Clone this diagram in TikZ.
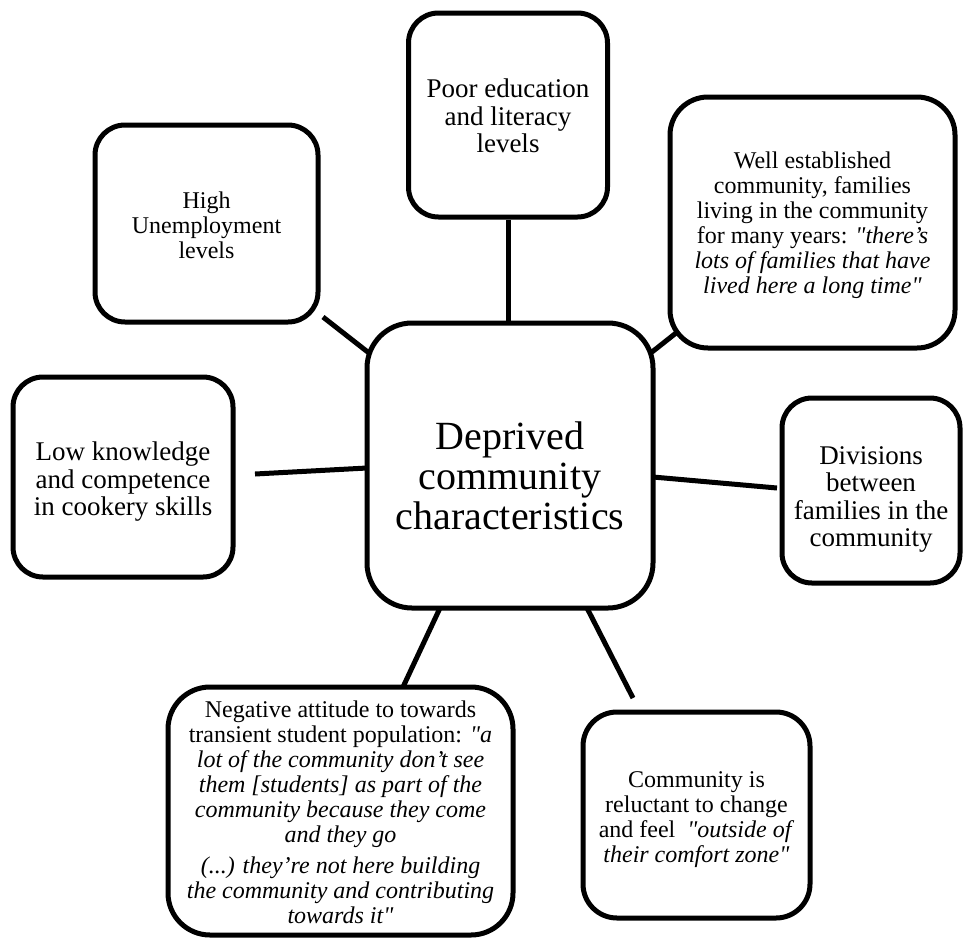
\documentclass[tikz,border=0pt]{standalone}
\usepackage{fontspec}
\setmainfont{Liberation Serif}[Ligatures=TeXOff]
\begin{document}
\begin{tikzpicture}[x=1pt,y=-1pt,
  box/.style={draw, line width=5pt, rounded corners=30pt, inner sep=0pt, fill=white},
  txt/.style={align=center, inner sep=0pt},
  hubtext/.style={txt, font=\fontsize{40}{40}\selectfont},
  bigtext/.style={txt, font=\fontsize{27}{27.5}\selectfont},
  smalltext/.style={txt, font=\fontsize{24}{25}\selectfont},
  link/.style={line width=5pt}]
\useasboundingbox (0,0) rectangle (964,938);

% connector end points
\coordinate (tl-a) at (323,317);
\coordinate (tl-b) at (369,353);
\coordinate (tr-a) at (676,333);
\coordinate (tr-b) at (652,352);
\coordinate (l-a)  at (255,474);
\coordinate (l-b)  at (367,468);
\coordinate (r-a)  at (653,477);
\coordinate (r-b)  at (777,488);
\coordinate (bl-a) at (440,608);
\coordinate (bl-b) at (403,687);
\coordinate (br-a) at (587,608);
\coordinate (br-b) at (633,698);

% central theme
\node[box, rounded corners=45pt, minimum width=286pt, minimum height=285pt] (hub) at (510,465.5) {};
\node[hubtext] (hub-text) at (510,476) {Deprived\\community\\characteristics};

% surrounding characteristics
\node[box, minimum width=199pt, minimum height=204pt] (edu) at (508,115) {};
\node[bigtext] (edu-text) at (508,116) {Poor education\\and literacy\\levels};

\node[box, minimum width=223pt, minimum height=197pt] (unemp) at (206.5,223.5) {};
\node[smalltext] (unemp-text) at (206.5,225.5) {High\\Unemployment\\levels};

\node[box, rounded corners=38pt, minimum width=285pt, minimum height=251pt] (estab) at (812.5,222.5) {};
\node[smalltext] (estab-text) at (812.5,225.5)
  {Well established\\community, families\\living in the community\\for many years: \textit{"there’s}\\\textit{lots of families that have}\\\textit{lived here a long time"}};

\node[box, minimum width=178pt, minimum height=185pt] (div) at (871,490.5) {};
\node[bigtext] (div-text) at (871,499.5) {Divisions\\between\\families in the\\community};

\node[box, minimum width=220pt, minimum height=200pt] (cook) at (123,477) {};
\node[bigtext] (cook-text) at (123,482) {Low knowledge\\and competence\\in cookery skills};

\node[box, rounded corners=42pt, minimum width=345pt, minimum height=248pt] (stud) at (340.5,811) {};
\node[smalltext] (stud-text) at (340.5,812)
  {Negative attitude to towards\\transient student population: \textit{"a}\\\textit{lot of the community don’t see}\\\textit{them [students] as part of the}\\\textit{community because they come}\\\textit{and they go}\\[6pt]\textit{(...) they’re not here building}\\\textit{the community and contributing}\\\textit{towards it"}};

\node[box, rounded corners=34pt, minimum width=227pt, minimum height=206pt] (change) at (696.5,815) {};
\node[smalltext] (change-text) at (696.5,820)
  {Community is\\reluctant to change\\and feel\ \ \textit{"outside of}\\\textit{their comfort zone"}};

% connectors
\draw[link] (edu.south) -- (edu.south |- hub.north);
\draw[link] (tl-a) -- (tl-b);
\draw[link] (tr-a) -- (tr-b);
\draw[link] (l-a) -- (l-b);
\draw[link] (r-a) -- (r-b);
\draw[link] (bl-a) -- (bl-b);
\draw[link] (br-a) -- (br-b);
\end{tikzpicture}
\end{document}
